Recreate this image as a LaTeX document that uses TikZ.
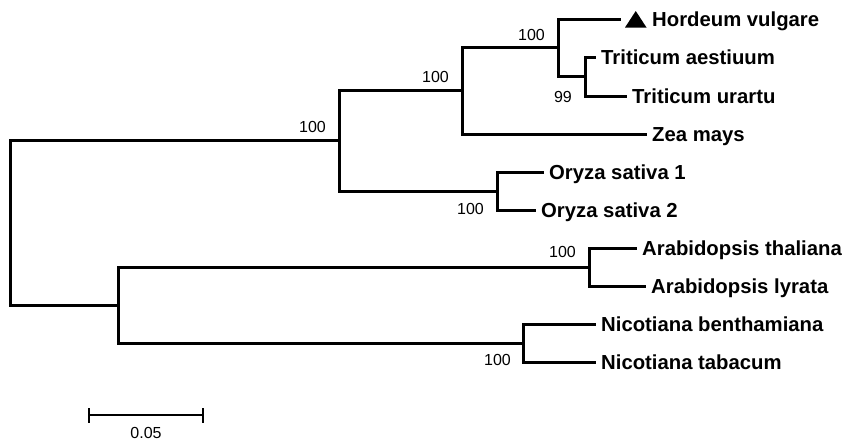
\documentclass[tikz,border=0pt]{standalone}
\usepackage{fontspec}
\setmainfont{Liberation Sans}
\begin{document}
\begin{tikzpicture}[x=1pt,y=-1pt,
  branch/.style={line width=3pt, line join=miter},
  leaf/.style={anchor=west, font=\fontsize{20.3}{24}\selectfont\bfseries, inner xsep=5pt, inner ysep=0pt, text height=14.5pt, text depth=0pt},
  boot/.style={anchor=east, font=\fontsize{16}{19}\selectfont, inner sep=0pt, text height=11.5pt, text depth=0pt},
  scalelbl/.style={font=\fontsize{16}{19}\selectfont, inner sep=0pt, text height=11.5pt, text depth=0pt}]
\useasboundingbox (0,0) rectangle (849,442);

% internal nodes
\coordinate (root) at (10,223);
\coordinate (n1) at (339,140.9);
\coordinate (n2) at (462,90.75);
\coordinate (n3) at (558,47.5);
\coordinate (n4) at (585,76.5);
\coordinate (n5) at (497,191);
\coordinate (n6) at (118,305.25);
\coordinate (n7) at (589,267.5);
\coordinate (n8) at (523,343);

% leaves
\coordinate (hve) at (621,19);
\fill (625,27.5) -- (646.5,27.5) -- (635.75,11) -- cycle;
\node[leaf] (hv) at (647,19) {Hordeum vulgare};
\node[leaf] (ta) at (596,57.5) {Triticum aestiuum};
\node[leaf] (tu) at (627,96) {Triticum urartu};
\node[leaf] (zm) at (647,134) {Zea mays};
\node[leaf] (os1) at (544,172) {Oryza sativa 1};
\node[leaf] (os2) at (536,210) {Oryza sativa 2};
\node[leaf] (at) at (637,248.5) {Arabidopsis thaliana};
\node[leaf] (al) at (646,286.5) {Arabidopsis lyrata};
\node[leaf] (nb) at (596,324) {Nicotiana benthamiana};
\node[leaf] (nt) at (596,362) {Nicotiana tabacum};

% branches
\draw[branch] (root) |- (n1);
\draw[branch] (root) |- (n6);
\draw[branch] (n1) |- (n2);
\draw[branch] (n1) |- (n5);
\draw[branch] (n2) |- (n3);
\draw[branch] (n2) |- (zm.west);
\draw[branch] (n3) |- (hve);
\draw[branch] (n3) |- (n4);
\draw[branch] (n4) |- (ta.west);
\draw[branch] (n4) |- (tu.west);
\draw[branch] (n5) |- (os1.west);
\draw[branch] (n5) |- (os2.west);
\draw[branch] (n6) |- (n7);
\draw[branch] (n6) |- (n8);
\draw[branch] (n7) |- (at.west);
\draw[branch] (n7) |- (al.west);
\draw[branch] (n8) |- (nb.west);
\draw[branch] (n8) |- (nt.west);

% bootstrap values
\node[boot] (b1) at (326,127) {100};
\node[boot] (b2) at (449,77) {100};
\node[boot] (b3) at (545,35) {100};
\node[boot] (b4) at (572,97) {99};
\node[boot] (b5) at (484,209) {100};
\node[boot] (b6) at (576,252) {100};
\node[boot] (b7) at (511,360) {100};

% scale bar
\coordinate (s1) at (89,415);
\coordinate (s2) at (203,415);
\draw[line width=2.7pt] (s1) -- (s2);
\draw[line width=2.7pt] ([yshift=-7.5pt]s1) -- ([yshift=7.5pt]s1);
\draw[line width=2.7pt] ([yshift=-7.5pt]s2) -- ([yshift=7.5pt]s2);
\node[scalelbl] (sl) at (146,433) {0.05};
\end{tikzpicture}
\end{document}
